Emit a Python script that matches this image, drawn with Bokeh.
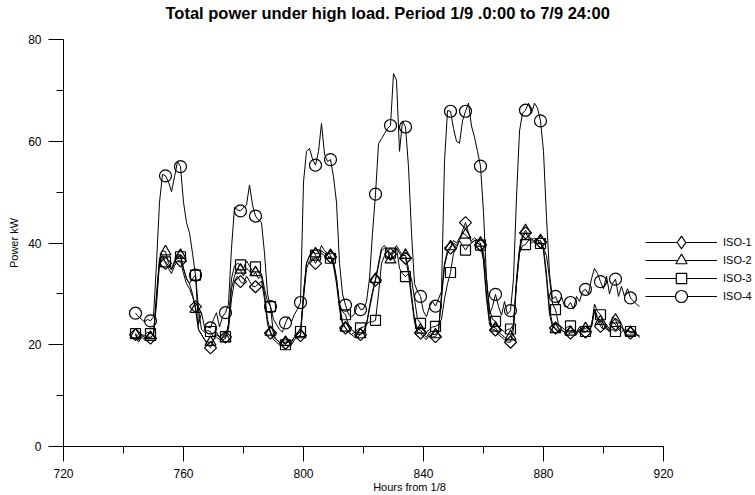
from bokeh.plotting import figure
from bokeh.models import Range1d, FixedTicker, Legend, LegendItem, Title
from bokeh.embed import file_html
from bokeh.resources import INLINE

# ---------------- data (hourly, hours counted from 1/8) ----------------
hours = list(range(744, 913))
marker_every = 5

iso1 = [
    22.0, 21.0, 21.8, 21.5, 21.5, 21.3, 22.0, 29.0, 36.5, 37.5, 36.0, 35.0, 34.0, 35.5, 36.5, 36.5, 34.0, 32.0, 31.0, 29.5, 27.5, 23.0, 22.0, 21.0,
    20.0, 19.4, 21.0, 21.5, 21.0, 21.5, 21.5, 23.0, 29.0, 32.5, 33.5, 32.4, 32.0, 33.5, 32.5, 31.5, 31.4, 32.0, 32.5, 29.0, 24.0, 22.3, 21.0, 20.5,
    20.0, 20.5, 20.3, 20.5, 20.0, 21.0, 21.5, 21.8, 29.0, 35.0, 36.5, 37.0, 36.0, 37.0, 38.0, 37.5, 37.0, 37.3, 35.5, 32.0, 27.0, 24.0, 23.3, 22.5,
    22.0, 21.5, 22.0, 22.0, 22.5, 24.0, 27.0, 30.0, 32.7, 35.5, 38.5, 39.0, 38.5, 37.8, 38.0, 39.0, 38.0, 37.0, 37.0, 34.0, 29.0, 24.5, 22.5, 22.3,
    21.5, 21.0, 22.0, 21.5, 21.6, 22.5, 29.0, 35.5, 38.0, 39.0, 40.0, 39.5, 40.5, 42.5, 44.0, 42.0, 40.0, 40.5, 40.0, 39.6, 36.5, 29.0, 24.0, 23.0,
    22.9, 22.0, 21.5, 21.0, 20.5, 20.5, 23.0, 32.0, 38.5, 41.0, 42.0, 41.0, 40.0, 40.5, 40.0, 40.2, 38.5, 33.0, 26.0, 23.5, 23.3, 22.5, 22.8, 22.5,
    22.0, 22.3, 22.5, 22.0, 23.0, 22.5, 22.5, 23.0, 23.5, 26.5, 25.0, 23.6, 23.0, 23.5, 22.5, 24.5, 24.0, 23.0, 23.5, 22.5, 22.8, 22.3, 22.5, 22.0, 21.5,
]
iso2 = [
    22.0, 20.5, 21.5, 21.0, 21.5, 21.5, 22.0, 30.0, 37.0, 38.5, 38.3, 36.0, 35.0, 36.5, 37.8, 37.6, 35.0, 33.0, 32.0, 30.0, 27.0, 23.0, 22.0, 21.0,
    20.5, 20.5, 21.0, 22.0, 21.5, 21.0, 21.2, 24.0, 31.0, 33.5, 35.0, 34.7, 33.5, 35.0, 34.5, 33.5, 34.2, 33.0, 33.5, 30.0, 25.0, 22.5, 21.5, 21.0,
    20.5, 20.0, 20.5, 21.0, 20.8, 21.5, 21.5, 22.0, 30.0, 36.0, 37.5, 38.5, 37.9, 38.0, 39.5, 38.5, 38.0, 37.6, 36.0, 33.0, 28.0, 24.5, 23.3, 22.5,
    22.0, 22.5, 21.5, 22.0, 22.5, 24.0, 27.5, 30.5, 32.9, 36.0, 39.0, 39.5, 38.5, 36.7, 38.5, 39.5, 38.5, 37.5, 37.6, 35.0, 30.0, 25.0, 23.0, 22.9,
    22.0, 21.5, 22.5, 22.0, 22.0, 23.0, 30.0, 36.0, 38.5, 39.3, 40.5, 40.0, 41.0, 42.0, 41.6, 41.0, 40.5, 41.0, 40.5, 40.0, 37.0, 30.0, 25.0, 23.5,
    23.3, 22.5, 22.0, 21.5, 21.0, 21.6, 24.0, 33.0, 39.0, 41.5, 42.5, 41.5, 40.5, 41.0, 40.5, 40.5, 39.0, 34.0, 27.0, 24.0, 23.0, 22.5, 23.0, 22.5,
    22.5, 22.5, 23.0, 22.5, 23.5, 23.0, 23.2, 23.5, 24.0, 27.0, 25.5, 24.6, 23.0, 24.0, 23.0, 25.5, 24.9, 23.5, 24.0, 22.5, 23.0, 22.5, 22.3, 22.0, 21.8,
]
iso3 = [
    22.2, 21.5, 22.0, 21.8, 22.5, 22.2, 22.0, 28.0, 36.0, 37.0, 36.3, 35.5, 34.7, 36.0, 37.5, 37.3, 35.0, 33.0, 32.0, 33.0, 33.7, 27.0, 23.0, 22.5,
    22.8, 22.6, 21.5, 22.5, 21.5, 22.0, 21.6, 24.0, 33.0, 35.5, 36.0, 35.7, 35.0, 36.5, 35.5, 34.5, 35.3, 34.5, 34.0, 31.0, 28.5, 27.5, 22.0, 21.0,
    20.5, 21.0, 20.0, 21.0, 20.5, 21.5, 22.0, 22.6, 30.0, 36.0, 37.5, 38.5, 37.6, 37.0, 38.5, 38.0, 37.5, 37.0, 36.5, 33.0, 28.0, 26.5, 25.9, 24.0,
    23.0, 22.5, 23.0, 23.3, 23.5, 24.0, 24.5, 24.5, 24.8, 30.0, 36.0, 37.5, 38.5, 38.0, 38.5, 39.0, 35.0, 34.0, 33.4, 34.0, 33.0, 29.0, 25.0, 24.2,
    23.0, 22.5, 23.0, 23.5, 23.6, 24.0, 25.0, 29.0, 32.0, 34.2, 38.0, 39.0, 40.5, 39.5, 38.6, 39.5, 40.0, 40.5, 40.0, 39.6, 38.0, 33.0, 27.0, 25.0,
    24.6, 23.5, 23.0, 22.5, 23.0, 23.1, 24.0, 32.0, 38.0, 39.5, 39.7, 40.5, 41.0, 40.0, 40.5, 39.9, 39.0, 37.5, 33.0, 28.0, 26.9, 24.0, 23.5, 23.0,
    23.5, 23.7, 23.0, 22.5, 23.0, 22.8, 22.6, 23.0, 23.5, 28.0, 26.5, 25.9, 24.0, 23.0, 22.8, 23.0, 22.6, 23.0, 22.5, 23.0, 22.6, 22.6, 22.5, 22.0, 21.5,
]
iso4 = [
    26.2, 25.5, 25.0, 24.5, 25.0, 24.7, 25.5, 36.0, 48.0, 53.5, 53.2, 52.0, 50.1, 53.0, 56.0, 55.0, 48.0, 44.0, 42.0, 38.0, 33.7, 24.0, 26.3, 23.5,
    23.5, 23.3, 25.0, 26.3, 23.5, 25.5, 26.3, 28.0, 39.0, 47.0, 46.5, 46.3, 47.0, 47.5, 51.4, 47.5, 45.3, 44.5, 44.0, 38.0, 30.0, 27.5, 25.0, 24.0,
    23.0, 22.5, 24.3, 25.5, 24.5, 26.0, 27.0, 28.3, 52.0, 58.0, 58.6, 56.5, 55.3, 58.0, 63.5, 57.5, 56.0, 56.4, 53.0, 48.0, 36.0, 30.0, 27.8, 26.0,
    25.5, 26.0, 28.0, 26.9, 27.0, 28.5, 33.0, 42.0, 49.6, 59.5, 60.5, 61.5, 62.5, 63.1, 73.3, 72.0, 58.0, 64.0, 62.8, 55.0, 42.0, 32.0, 30.5, 29.5,
    26.5, 25.5, 27.5, 28.5, 27.6, 29.0, 30.5, 56.0, 66.0, 65.9, 62.5, 60.0, 59.6, 64.0, 65.9, 67.5, 63.0, 60.8, 58.0, 55.1, 46.0, 33.0, 26.0, 27.5,
    29.9, 27.5, 25.8, 28.5, 26.0, 26.7, 33.0, 49.0, 62.0, 65.5, 66.1, 67.5, 65.5, 67.5, 66.5, 64.0, 58.0, 45.0, 34.0, 29.0, 29.5, 28.0, 29.5, 27.5,
    27.5, 28.3, 27.0, 29.5, 28.5, 30.5, 30.9, 30.0, 33.0, 35.0, 34.0, 32.4, 31.0, 33.5, 30.0, 32.0, 32.9, 29.5, 31.5, 29.5, 31.0, 29.2, 28.5, 28.0, 27.5,
]

series_names = ["ISO-1", "ISO-2", "ISO-3", "ISO-4"]
series_values = [iso1, iso2, iso3, iso4]

x_major = [720, 760, 800, 840, 880, 920]
x_minor = [740, 780, 820, 860, 900]
y_major = [0, 20, 40, 60, 80]
y_minor = [10, 30, 50, 70]

title_text = "Total power under high load. Period 1/9 .0:00 to 7/9  24:00"
x_title = "Hours from 1/8"
y_title = "Power kW"

# ---------------- layout / styles ----------------
FONT = "Liberation Sans"
W, H = 755, 495
LEFT, AXIS_RIGHT = 63, 663          # pixel span of the x axis (720 .. 920)
FRAME_TOP, FRAME_BOTTOM = 39, 447
x_lo, x_hi = x_major[0], x_major[-1]
# the frame runs to the right edge of the canvas so that the legend (which sits
# beyond the end of the axis) is not clipped; the axis itself is bounded.
x_end = x_lo + (x_hi - x_lo) * (W - LEFT) / (AXIS_RIGHT - LEFT)

marker_styles = [
    dict(marker="square", size=8.5, angle=0.785398, legend_marker="diamond", key_box=32),
    dict(marker="triangle", size=11, angle=0.0, legend_marker="triangle", key_box=28),
    dict(marker="square", size=10, angle=0.0, legend_marker="square", key_box=26),
    dict(marker="circle", size=12, angle=0.0, legend_marker="circle", key_box=30),
]
LEGEND_X = 582          # px from frame left to start of key line
LEGEND_ROW0 = 243       # px from top of canvas, centre of first row
LEGEND_PITCH = 18

p = figure(width=W, height=H, output_backend="svg", toolbar_location=None,
           x_range=Range1d(x_lo, x_end), y_range=Range1d(y_major[0], y_major[-1]),
           min_border_left=LEFT, min_border_right=0, min_border_top=FRAME_TOP,
           min_border_bottom=H - FRAME_BOTTOM)
p.outline_line_color = None
p.xgrid.visible = False
p.ygrid.visible = False
p.background_fill_color = "white"
p.border_fill_color = "white"

# main title (outermost panel) + thin spacer panel between it and the frame
p.title.text = title_text
p.title.text_font = FONT
p.title.text_font_size = "16.5px"
p.title.text_font_style = "bold"
p.title.text_color = "black"
p.title.align = "left"
p.title.offset = 102
p.title.vertical_align = "bottom"
p.title.standoff = 0
spacer = Title(text=" ", text_font_size="1px", standoff=15)
p.add_layout(spacer, "above")

for ax in (p.xaxis[0], p.yaxis[0]):
    ax.axis_line_color = "black"
    ax.major_tick_line_color = "black"
    ax.minor_tick_line_color = "black"
    ax.major_tick_in = 0
    ax.major_tick_out = 15
    ax.minor_tick_in = 0
    ax.minor_tick_out = 7
    ax.major_label_text_font = FONT
    ax.major_label_text_font_size = "12px"
    ax.major_label_text_color = "black"
    ax.axis_label_text_font = FONT
    ax.axis_label_text_font_size = "11px"
    ax.axis_label_text_font_style = "normal"
    ax.axis_label_text_color = "black"

p.xaxis[0].ticker = FixedTicker(ticks=x_major, minor_ticks=x_minor)
p.xaxis[0].bounds = (x_lo, x_hi)
p.yaxis[0].ticker = FixedTicker(ticks=y_major, minor_ticks=y_minor)
p.xaxis[0].axis_label = x_title
p.yaxis[0].axis_label = y_title
p.xaxis[0].major_label_standoff = 7
p.xaxis[0].axis_label_standoff = 0
p.yaxis[0].major_label_standoff = 7
p.yaxis[0].axis_label_standoff = 5

nan = float("nan")
for k, (name, vals, ms) in enumerate(zip(series_names, series_values, marker_styles)):
    ln = p.line(hours, vals, line_color="black", line_width=1)
    p.scatter(hours[::marker_every], vals[::marker_every], marker=ms["marker"],
              size=ms["size"], angle=ms["angle"], line_color="black",
              line_width=1.2, fill_color=None)
    # legend key (no drawable point of its own)
    key = p.scatter([nan], [nan], marker=ms["legend_marker"], line_color="black",
                    line_width=1.2, fill_color="white")
    gh = ms["key_box"]
    row_centre = LEGEND_ROW0 + k * LEGEND_PITCH
    vy = FRAME_BOTTOM - (row_centre + gh / 2)
    lg = Legend(items=[LegendItem(label=name, renderers=[ln, key])],
                location=(LEGEND_X, vy), glyph_width=72, glyph_height=gh,
                label_height=18, spacing=0, padding=0, margin=0,
                background_fill_alpha=0, border_line_alpha=0,
                label_text_font=FONT, label_text_font_size="11px",
                label_text_color="black", label_standoff=6)
    p.add_layout(lg)

open("out.html", "w").write(file_html(p, INLINE))
